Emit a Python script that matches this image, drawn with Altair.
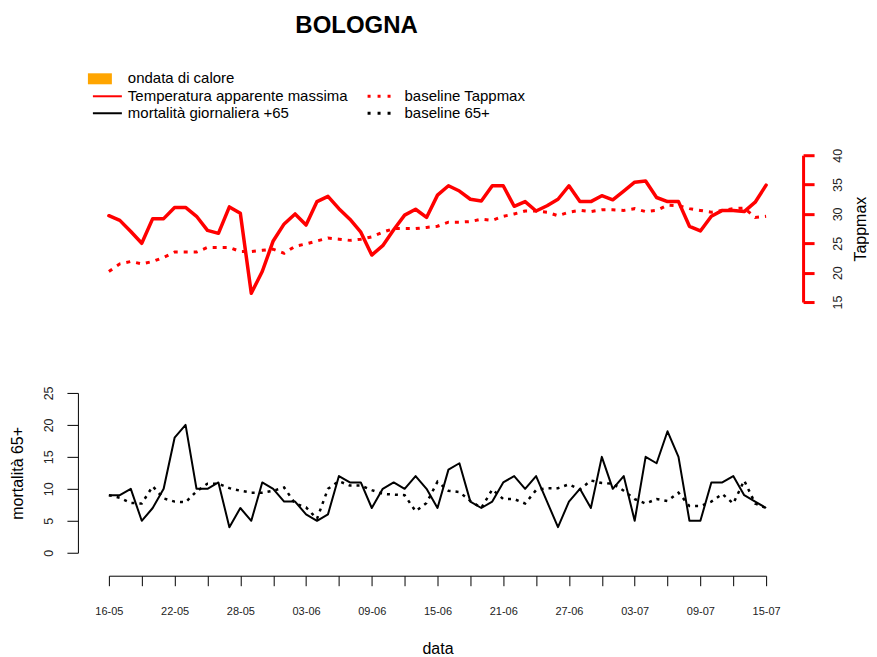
import json
import altair as alt
import pandas as pd

# ---------------- data ----------------
days = list(range(61))  # 16-05 ... 15-07
tick_labels = ['16-05', '22-05', '28-05', '03-06', '09-06', '15-06',
               '21-06', '27-06', '03-07', '09-07', '15-07']

tappmax = [29.7, 28.9, 27.0, 25.0, 29.2, 29.2, 31.1, 31.1, 29.6, 27.2,
           26.7, 31.2, 30.1, 16.5, 20.2, 25.4, 28.3, 30.0, 28.1, 32.1,
           33.0, 30.9, 29.1, 26.9, 23.0, 24.6, 27.3, 29.8, 30.8, 29.4,
           33.2, 34.8, 33.9, 32.5, 32.2, 34.8, 34.8, 31.3, 32.1, 30.5,
           31.4, 32.5, 34.8, 32.1, 32.1, 33.1, 32.4, 33.9, 35.4, 35.6,
           32.8, 32.1, 32.1, 27.9, 27.1, 29.6, 30.6, 30.6, 30.4, 32.0,
           34.9]

baseline_tappmax = [20.2, 21.5, 21.9, 21.5, 21.9, 22.6, 23.5, 23.5, 23.5, 24.3,
                    24.3, 24.3, 23.6, 23.6, 23.8, 24.0, 23.3, 24.5, 24.9, 25.4,
                    25.9, 25.7, 25.5, 25.7, 26.1, 26.9, 27.5, 27.5, 27.5, 27.7,
                    27.9, 28.6, 28.6, 28.7, 29.1, 28.9, 29.6, 30.0, 30.5, 30.5,
                    30.3, 29.7, 30.3, 30.6, 30.4, 30.7, 30.7, 30.6, 30.9, 30.4,
                    30.6, 31.5, 31.4, 30.9, 30.6, 30.3, 30.6, 30.9, 31.0, 29.4,
                    29.6]

mort65 = [9, 9, 10, 5, 7, 10, 18, 20, 10, 10,
          11, 4, 7, 5, 11, 10, 8, 8, 6, 5,
          6, 12, 11, 11, 7, 10, 11, 10, 12, 10,
          7, 13, 14, 8, 7, 8, 11, 12, 10, 12,
          8, 4, 8, 10, 7, 15, 10, 12, 5, 15,
          14, 19, 15, 5, 5, 11, 11, 12, 9, 8,
          7]

baseline_mort65 = [9.0, 8.6, 7.8, 7.7, 10.4, 8.5, 8.0, 7.9, 9.6, 10.8,
                   10.8, 10.1, 9.7, 9.4, 9.4, 9.7, 10.2, 7.7, 7.1, 5.3,
                   10.0, 11.2, 10.5, 10.5, 9.8, 9.2, 9.1, 9.0, 6.5, 7.8,
                   11.1, 9.7, 9.5, 8.1, 7.0, 9.9, 8.4, 8.4, 7.7, 9.8,
                   10.1, 10.1, 10.7, 9.9, 11.3, 10.9, 10.8, 9.7, 8.4, 7.7,
                   8.4, 8.1, 9.4, 7.3, 7.3, 8.0, 9.2, 7.7, 11.3, 7.7,
                   7.0]

legend_labels = ['ondata di calore', 'Temperatura apparente massima',
                 'mortalità giornaliera +65', 'baseline Tappmax', 'baseline 65+']

df = pd.DataFrame({
    'day': days,
    'tappmax': tappmax,
    'base_t': baseline_tappmax,
    'mort': mort65,
    'base_m': baseline_mort65,
})
one = pd.DataFrame({'k': [0]})

FONT = 'Liberation Sans'
RED = '#FF0000'

x_scale = alt.Scale(domain=[0, 60], nice=False, zero=False)
t_scale = alt.Scale(domain=[15, 40], nice=False, zero=False)
m_scale = alt.Scale(domain=[0, 25], nice=False, zero=False)

# ---------------- top panel: temperature ----------------
t_axis = alt.Axis(orient='right', values=[15, 20, 25, 30, 35, 40], offset=37,
                  tickSize=11, tickWidth=3, tickColor=RED, domainColor=RED,
                  domainWidth=3, labelAngle=270, labelPadding=17.5, labelFontSize=12.5,
                  labelColor='#222222', labelFlush=False, labelOverlap=False,
                  grid=False, title='Tappmax', titleAngle=270, titleFontSize=16,
                  titleFontWeight='normal', titleColor='black', titlePadding=24.5)

top_base = alt.Chart(df)
red_line = top_base.mark_line(color=RED, strokeWidth=3.5, strokeJoin='round',
                              strokeCap='round').encode(
    x=alt.X('day:Q', scale=x_scale, axis=None),
    y=alt.Y('tappmax:Q', scale=t_scale, axis=t_axis))
red_base = top_base.mark_line(color=RED, strokeWidth=3, strokeDash=[4, 6]).encode(
    x=alt.X('day:Q', scale=x_scale, axis=None),
    y=alt.Y('base_t:Q', scale=t_scale, axis=t_axis))


def txt(label, x, y, size=15, weight='normal', align='left'):
    return alt.Chart(one).mark_text(text=label, font=FONT, fontSize=size,
                                    fontWeight=weight, align=align,
                                    baseline='middle', color='black').encode(
        x=alt.value(x), y=alt.value(y))


def leg_line(x1, x2, y, color, dash=None, width=2):
    kw = dict(color=color, strokeWidth=width)
    if dash:
        kw['strokeDash'] = dash
    return alt.Chart(one).mark_rule(**kw).encode(
        x=alt.value(x1), x2=alt.value(x2), y=alt.value(y))


title = alt.Chart(one).mark_text(text='BOLOGNA', font=FONT, fontSize=24,
                                 fontWeight='bold', align='center',
                                 baseline='alphabetic', color='black').encode(
    x=alt.value(248), y=alt.value(-122))

orange = alt.Chart(one).mark_rect(color='#FFA500').encode(
    x=alt.value(-21), x2=alt.value(3), y=alt.value(-82), y2=alt.value(-71))

legend = [
    orange,
    txt(legend_labels[0], 19, -77),
    leg_line(-16, 13, -59, RED, width=2),
    txt(legend_labels[1], 19, -59),
    leg_line(-16, 13, -42, 'black', width=2),
    txt(legend_labels[2], 19, -42),
    leg_line(259, 289, -59, RED, dash=[3, 7], width=3),
    txt(legend_labels[3], 296, -59),
    leg_line(259, 289, -42, 'black', dash=[3, 7], width=3),
    txt(legend_labels[4], 296, -42),
]

top = alt.layer(red_base, red_line, title, *legend).properties(width=658, height=147)

# ---------------- bottom panel: mortality ----------------
label_expr = ("datum.value % 6 == 0 ? (" + json.dumps(tick_labels) +
              ")[round(datum.value / 6)] : ''")

x_axis = alt.Axis(values=list(range(0, 61, 3)), labelExpr=label_expr, offset=23,
                  tickSize=10, tickColor='black', domainColor='black',
                  labelFontSize=11, labelColor='#222222', labelPadding=20,
                  labelFlush=False, labelOverlap=False, grid=False,
                  title='data', titleFontSize=16, titleFontWeight='normal',
                  titleColor='black', titlePadding=24)

m_axis = alt.Axis(orient='left', values=[0, 5, 10, 15, 20, 25], offset=31,
                  tickSize=11, tickColor='black', domainColor='black',
                  labelAngle=270, labelPadding=11, labelFontSize=12.5,
                  labelColor='#222222', labelFlush=False, labelOverlap=False,
                  grid=False, title='mortalità 65+', titleAngle=270,
                  titleFontSize=16, titleFontWeight='normal', titleColor='black',
                  titlePadding=17.5)

bot_base = alt.Chart(df)
black_line = bot_base.mark_line(color='black', strokeWidth=2, strokeJoin='round').encode(
    x=alt.X('day:Q', scale=x_scale, axis=x_axis),
    y=alt.Y('mort:Q', scale=m_scale, axis=m_axis))
black_base = bot_base.mark_line(color='black', strokeWidth=2.5, strokeDash=[3, 5]).encode(
    x=alt.X('day:Q', scale=x_scale, axis=x_axis),
    y=alt.Y('base_m:Q', scale=m_scale, axis=m_axis))

bottom = alt.layer(black_base, black_line).properties(width=658, height=160)

chart = alt.VConcatChart(vconcat=[top, bottom], spacing=91, bounds='flush').properties(
    padding={'left': 1, 'top': 6, 'right': 0, 'bottom': 0}
).configure(font=FONT).configure_view(strokeWidth=0, stroke='transparent').configure_axis(
    labelFont=FONT, titleFont=FONT)

chart.save('out.html', embed_options={'renderer': 'svg', 'actions': False})
